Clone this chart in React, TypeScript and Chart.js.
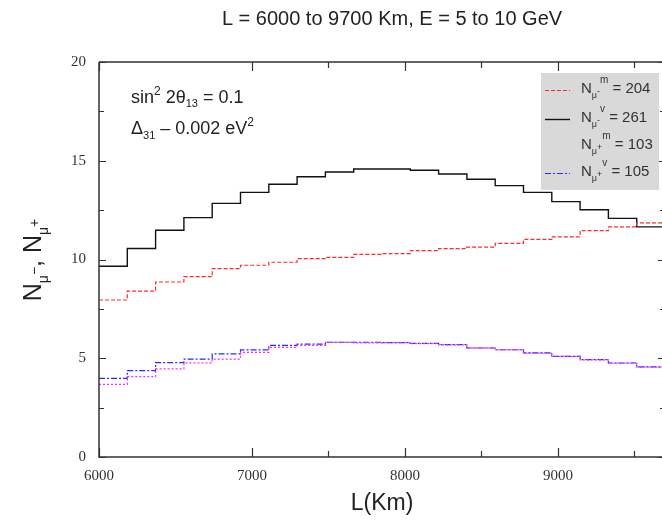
import React, { useEffect, useRef } from 'react';
import { Chart, registerables } from 'chart.js';

Chart.register(...registerables);

// ---- data ----
const BIN_EDGES_KM = [6000, 6185, 6370, 6555, 6740, 6925, 7110, 7295, 7480, 7665, 7850, 8035, 8220, 8405, 8590, 8775, 8960, 9145, 9330, 9515, 9700];
const N_MU_MINUS_MATTER = [7.95, 8.4, 8.86, 9.13, 9.54, 9.71, 9.86, 10.04, 10.11, 10.26, 10.3, 10.45, 10.55, 10.63, 10.82, 11.02, 11.15, 11.46, 11.65, 11.85];
const N_MU_MINUS_VACUUM = [9.66, 10.56, 11.48, 12.12, 12.84, 13.4, 13.81, 14.19, 14.43, 14.58, 14.58, 14.52, 14.33, 14.06, 13.74, 13.4, 12.93, 12.52, 12.08, 11.65];
const N_MU_PLUS_MATTER = [3.68, 4.07, 4.46, 4.77, 4.96, 5.3, 5.55, 5.65, 5.81, 5.78, 5.79, 5.74, 5.68, 5.53, 5.42, 5.26, 5.1, 4.92, 4.75, 4.55];
const N_MU_PLUS_VACUUM = [3.98, 4.37, 4.78, 4.96, 5.22, 5.42, 5.65, 5.72, 5.81, 5.81, 5.79, 5.75, 5.69, 5.52, 5.43, 5.27, 5.1, 4.93, 4.76, 4.56];
const X_TICK_LABELS = [6000, 7000, 8000, 9000];
const X_MINOR_TICKS = [7500, 8500, 9500];
const Y_TICK_LABELS = [0, 5, 10, 15, 20];
const Y_MINOR_TICKS = [2.5, 7.5, 12.5, 17.5];
const LEGEND_TOTALS = [204, 261, 103, 105];

const SANS = '"Liberation Sans", Arial, sans-serif';
const SERIF = '"Liberation Serif", "Times New Roman", serif';

const RED = '#ff2a2a';
const BLACK = '#111111';
const MAGENTA = '#ff2aff';
const BLUE = '#2a2aff';
const RED_DASH = [4, 2];
const BLUE_DASH = [6, 2, 2, 2];
const MAGENTA_DASH = [2, 2];

function toSteps(values: number[]) {
  return BIN_EDGES_KM.map((x, i) => ({ x, y: values[Math.min(i, values.length - 1)] }));
}

type Seg = { t: string; size: number; dy?: number };

function segsWidth(ctx: CanvasRenderingContext2D, segs: Seg[], family: string) {
  let w = 0;
  for (const s of segs) {
    ctx.font = `${s.size}px ${family}`;
    w += ctx.measureText(s.t).width;
  }
  return w;
}

function drawSegs(ctx: CanvasRenderingContext2D, x: number, y: number, segs: Seg[], family: string) {
  let cx = x;
  for (const s of segs) {
    ctx.font = `${s.size}px ${family}`;
    ctx.fillText(s.t, cx, y + (s.dy || 0));
    cx += ctx.measureText(s.t).width;
  }
  return cx;
}

const decorPlugin = {
  id: 'decor',
  afterDatasetsDraw(chart: any) {
    const { ctx, chartArea: a, scales } = chart;
    const xs = scales.x;
    const ys = scales.y;
    ctx.save();
    ctx.setLineDash([]);
    ctx.strokeStyle = '#333';
    ctx.lineWidth = 1.5;
    ctx.beginPath();
    ctx.moveTo(a.left, a.top);
    ctx.lineTo(a.left, a.bottom);
    ctx.lineTo(a.right, a.bottom);
    ctx.moveTo(a.left, a.top);
    ctx.lineTo(a.right, a.top);
    ctx.lineTo(a.right, a.bottom);
    ctx.stroke();

    ctx.lineWidth = 1.2;
    ctx.beginPath();
    const xt = (v: number, len: number) => {
      const p = Math.round(xs.getPixelForValue(v)) + 0.5;
      ctx.moveTo(p, a.bottom);
      ctx.lineTo(p, a.bottom - len);
      ctx.moveTo(p, a.top);
      ctx.lineTo(p, a.top + len);
    };
    const yt = (v: number, len: number) => {
      const p = Math.round(ys.getPixelForValue(v)) + 0.5;
      ctx.moveTo(a.left, p);
      ctx.lineTo(a.left + len, p);
      ctx.moveTo(a.right, p);
      ctx.lineTo(a.right - len, p);
    };
    X_TICK_LABELS.forEach((v) => xt(v, 9));
    X_MINOR_TICKS.forEach((v) => xt(v, 6));
    Y_TICK_LABELS.forEach((v) => yt(v, 7));
    Y_MINOR_TICKS.forEach((v) => yt(v, 5));
    ctx.stroke();
    ctx.restore();
  },
  afterDraw(chart: any) {
    const { ctx, chartArea: a } = chart;
    ctx.save();
    ctx.fillStyle = '#222';
    ctx.textBaseline = 'alphabetic';
    ctx.textAlign = 'left';

    // title
    const title: Seg[] = [{ t: 'L = 6000 to 9700 Km, E = 5 to 10 GeV', size: 20 }];
    const tw = segsWidth(ctx, title, SANS);
    drawSegs(ctx, 392 - tw / 2, 25, title, SANS);

    // x-axis title
    const xt: Seg[] = [{ t: 'L(Km)', size: 23 }];
    const xw = segsWidth(ctx, xt, SANS);
    drawSegs(ctx, (a.left + a.right) / 2 - xw / 2, 510, xt, SANS);

    // y-axis title (rotated)
    const yTitle: Seg[] = [
      { t: 'N', size: 25 },
      { t: 'μ', size: 14, dy: 7 },
      { t: '−', size: 14, dy: -2 },
      { t: ', ', size: 25 },
      { t: 'N', size: 25 },
      { t: 'μ', size: 14, dy: 7 },
      { t: '+', size: 14, dy: -2 },
    ];
    const yw = segsWidth(ctx, yTitle, SANS);
    ctx.save();
    ctx.translate(41, 260);
    ctx.rotate(-Math.PI / 2);
    drawSegs(ctx, -yw / 2, 0, yTitle, SANS);
    ctx.restore();

    // annotation
    ctx.fillStyle = '#222';
    drawSegs(ctx, 131, 103, [
      { t: 'sin', size: 18 },
      { t: '2', size: 12, dy: -8 },
      { t: ' 2θ', size: 18 },
      { t: '13', size: 11, dy: 4 },
      { t: ' = 0.1', size: 18 },
    ], SANS);
    drawSegs(ctx, 131, 134, [
      { t: 'Δ', size: 18 },
      { t: '31', size: 11, dy: 5 },
      { t: ' – 0.002 eV', size: 18 },
      { t: '2', size: 12, dy: -8 },
    ], SANS);

    // legend
    const bx = 541, by = 73, bw = 118, bh = 117;
    ctx.fillStyle = '#d9d9d9';
    ctx.fillRect(bx, by, bw, bh);
    const rows = [
      { color: RED, dash: RED_DASH, sign: '-', sup: 'm', show: true, lineW: 1.2 },
      { color: BLACK, dash: [], sign: '-', sup: 'v', show: true, lineW: 1.4 },
      { color: MAGENTA, dash: MAGENTA_DASH, sign: '+', sup: 'm', show: false, lineW: 1.2 },
      { color: BLUE, dash: BLUE_DASH, sign: '+', sup: 'v', show: true, lineW: 1.2 },
    ];
    const baselines = [93, 122, 149, 176];
    rows.forEach((r, i) => {
      const yb = baselines[i];
      if (r.show) {
        ctx.save();
        ctx.strokeStyle = r.color;
        ctx.lineWidth = r.lineW;
        ctx.setLineDash(r.dash);
        ctx.beginPath();
        ctx.moveTo(545, yb - 2.5);
        ctx.lineTo(570, yb - 2.5);
        ctx.stroke();
        ctx.restore();
      }
      ctx.fillStyle = '#333';
      drawSegs(ctx, 581, yb, [
        { t: 'N', size: 15 },
        { t: 'μ', size: 9, dy: 5 },
        { t: r.sign, size: 9, dy: 1 },
        { t: r.sup, size: 10, dy: -10 },
        { t: ' = ' + LEGEND_TOTALS[i], size: 15 },
      ], SANS);
    });
    ctx.restore();
  },
};

export default function App() {
  const ref = useRef<HTMLCanvasElement | null>(null);
  useEffect(() => {
    const canvas = ref.current;
    if (!canvas) return;
    const common = { pointRadius: 0, fill: false, stepped: true, tension: 0 } as any;
    const chart = new Chart(canvas, {
      type: 'line',
      data: {
        datasets: [
          { ...common, label: 'N_mu- m', data: toSteps(N_MU_MINUS_MATTER), borderColor: RED, borderWidth: 1.2, borderDash: RED_DASH },
          { ...common, label: 'N_mu- v', data: toSteps(N_MU_MINUS_VACUUM), borderColor: BLACK, borderWidth: 1.4 },
          { ...common, label: 'N_mu+ m', data: toSteps(N_MU_PLUS_MATTER), borderColor: MAGENTA, borderWidth: 1.2, borderDash: MAGENTA_DASH },
          { ...common, label: 'N_mu+ v', data: toSteps(N_MU_PLUS_VACUUM), borderColor: BLUE, borderWidth: 1.2, borderDash: BLUE_DASH },
        ],
      },
      options: {
        responsive: false,
        animation: false,
        devicePixelRatio: 1,
        events: [],
        layout: { padding: { top: 62, left: 0, right: 0, bottom: 0 } },
        plugins: { legend: { display: false }, title: { display: false }, tooltip: { enabled: false } },
        scales: {
          x: {
            type: 'linear',
            min: 6000,
            max: 9700,
            grid: { display: false, drawTicks: false },
            border: { display: false },
            afterBuildTicks: (s: any) => { s.ticks = X_TICK_LABELS.map((v) => ({ value: v })); },
            ticks: {
              autoSkip: false,
              maxRotation: 0,
              minRotation: 0,
              padding: 10,
              color: '#333',
              font: { family: SERIF, size: 15 },
              callback: (v: any) => String(v),
            },
            afterFit: (s: any) => { s.height = 65; },
          },
          y: {
            type: 'linear',
            min: 0,
            max: 20,
            grid: { display: false, drawTicks: false },
            border: { display: false },
            afterBuildTicks: (s: any) => { s.ticks = Y_TICK_LABELS.map((v) => ({ value: v })); },
            ticks: {
              autoSkip: false,
              padding: 13,
              color: '#333',
              font: { family: SERIF, size: 15 },
              callback: (v: any) => String(v),
            },
            afterFit: (s: any) => { s.width = 99; },
          },
        },
      } as any,
      plugins: [decorPlugin],
    });
    return () => chart.destroy();
  }, []);
  return (
    <div style={{ position: 'fixed', left: 0, top: 0, width: 662, height: 522, overflow: 'hidden', background: '#fff' }}>
      <canvas ref={ref} width={665} height={522} style={{ display: 'block', width: 665, height: 522 }} />
    </div>
  );
}
